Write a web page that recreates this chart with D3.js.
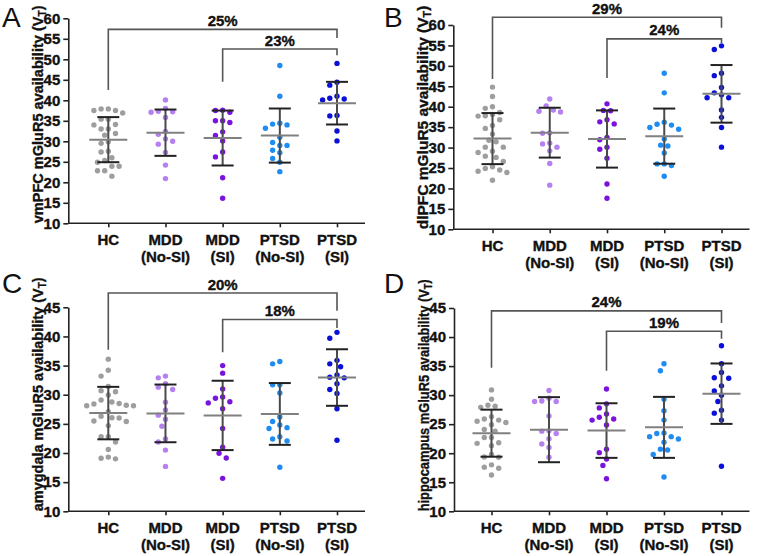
<!DOCTYPE html>
<html><head><meta charset="utf-8">
<script src="https://cdn.jsdelivr.net/npm/d3@7"></script>
<style>
body{margin:0;background:#fff}
svg{display:block}
text{font-family:"Liberation Sans",Arial,Helvetica,sans-serif}
.bt{stroke:#111;stroke-width:0.35px}
</style>
</head><body>
<svg id="chart" width="762" height="556"></svg>
<script>
// ---------- data ----------
const groupLine1 = ["HC","MDD","MDD","PTSD","PTSD"];
const groupLine2 = ["","(No-SI)","(SI)","(No-SI)","(SI)"];
const groupColors = ["#9e9e9e","#b580ef","#7a14dc","#1f8cf0","#0a10d8"];

const ticksAB = [10,15,20,25,30,35,40,45,50,55,60];
const ticksCD = [10,15,20,25,30,35,40,45];

const regionNames = ["vmPFC","dlPFC","amygdala","hippocampus"];
const panelLetters = ["A","B","C","D"];

// Panel A (vmPFC)
const A_HC     = [37.9,37.5,36.9,37.5,37.9,35.4,35.4,34.1,34.0,33.0,33.0,31.5,31.9,29.9,29.5,27.6,27.4,26.0,25.3,24.9,23.9,23.9,22.8,22.8,21.5];
const A_MDDno  = [40.1,38.0,37.3,37.1,37.2,35.8,32.4,31.7,30.6,30.0,29.3,27.3,24.2,20.9];
const A_MDDsi  = [37.6,37.1,37.5,35.0,34.6,35.0,32.3,31.4,30.1,27.4,26.2,21.1,16.1];
const A_PTSDno = [48.5,41.0,34.4,34.0,34.2,33.2,31.0,29.0,29.0,29.7,27.2,27.8,25.8,24.9,22.6];
const A_PTSDsi = [49.0,44.4,43.7,41.0,40.3,40.1,40.5,36.2,36.3,32.5,30.1];
const A_mean = [30.4,32.1,30.8,31.4,39.3];
const A_sd   = [5.5,5.65,6.7,6.6,5.2];
const A_pct  = ["25%","23%"];

// Panel B (dlPFC)
const B_HC     = [44.8,42.5,40.0,39.6,38.6,38.1,37.8,37.7,36.8,35.4,34.7,33.3,31.8,31.4,30.1,30.1,29.1,28.8,27.9,27.6,26.6,25.3,24.9,24.5,24.2,23.9,22.0];
const B_MDDno  = [41.9,40.2,39.2,38.9,38.7,33.6,33.5,31.1,30.9,30.1,29.2,26.1,20.8];
const B_MDDsi  = [40.7,39.1,39.0,36.8,36.3,35.8,32.5,31.9,30.1,29.6,27.4,21.1,17.6];
const B_PTSDno = [48.2,43.4,36.2,35.7,35.5,34.9,34.5,32.1,30.6,30.4,28.7,26.0,26.0,25.6,23.0];
const B_PTSDsi = [54.9,54.0,48.2,47.6,44.7,43.4,42.9,42.2,42.2,39.2,37.4,34.9,30.1];
const B_mean = [32.2,33.65,32.1,32.8,43.15];
const B_sd   = [6.25,6.1,7.0,6.75,7.05];
const B_pct  = ["29%","24%"];

// Panel C (amygdala)
const C_HC     = [36.1,34.2,33.2,31.4,30.7,30.5,29.95,29.1,28.75,28.5,28.4,28.2,28.1,28.1,27.1,26.3,26.05,26.0,25.5,25.4,24.7,22.8,22.8,21.9,20.6,19.3,19.1,19.0];
const C_MDDno  = [33.2,32.9,31.9,31.3,30.9,28.7,27.4,26.5,25.8,24.6,22.4,21.9,20.5,17.7];
const C_MDDsi  = [35.0,33.7,31.0,29.6,29.4,28.8,28.6,27.6,24.2,21.0,19.95,19.15,15.65];
const C_PTSDno = [35.7,35.3,31.7,31.7,30.3,26.2,25.4,24.8,24.35,24.2,22.8,22.4,22.05,17.55];
const C_PTSDsi = [40.7,39.7,35.9,35.3,34.8,33.4,33.0,32.9,31.9,30.9,30.2,27.6,22.2];
const C_mean = [26.85,26.8,26.45,26.7,32.95];
const C_sd   = [4.5,4.95,5.95,5.3,4.85];
const C_pct  = ["20%","18%"];

// Panel D (hippocampus)
const D_HC     = [30.9,29.3,28.25,28.1,27.9,26.3,25.9,25.7,25.5,25.3,24.9,24.1,23.8,22.7,22.7,21.8,21.7,21.3,19.8,19.35,19.3,18.0,17.6,17.4,16.25];
const D_MDDno  = [30.8,29.45,29.0,28.9,28.9,26.4,23.85,23.8,23.4,22.5,21.6,21.0,19.3];
const D_MDDsi  = [31.05,28.5,27.8,26.75,26.2,25.9,25.7,24.85,20.7,20.1,19.0,17.9,15.6];
const D_PTSDno = [35.4,34.2,29.3,27.3,25.7,23.5,23.4,22.85,22.85,22.45,21.9,20.7,20.55,19.8,15.9];
const D_PTSDsi = [38.5,35.4,33.9,33.0,32.9,31.6,30.7,30.0,28.9,27.4,26.9,25.7,17.75];
const D_mean = [23.45,24.05,23.9,24.45,30.25];
const D_sd   = [4.05,5.6,4.7,5.25,5.2];
const D_pct  = ["24%","19%"];

// bracket geometry in data units: [fromGroup, toGroup, barY, leftEnd, rightEnd]
const A_brackets = [[0,4,57.3,42.5,55.2],[2,4,52.5,44.5,51.0]];
const B_brackets = [[0,4,61.9,46.8,59.3],[2,4,56.6,47.0,55.6]];
const C_brackets = [[0,4,47.45,37.7,44.4],[2,4,42.9,37.3,41.45]];
const D_brackets = [[0,4,44.5,34.7,42.4],[2,4,41.0,34.2,39.7]];

// ---------- layout ----------
const panels = [
  {letter:panelLetters[0], region:regionNames[0], groups:[A_HC,A_MDDno,A_MDDsi,A_PTSDno,A_PTSDsi], mean:A_mean, sd:A_sd, pct:A_pct, brackets:A_brackets, ticks:ticksAB,
   x0:68.3, xFirst:108.3, xLast:337, yTop:18.3, yBot:223.3, lx:2, ly:27, titleLen:218},
  {letter:panelLetters[1], region:regionNames[1], groups:[B_HC,B_MDDno,B_MDDsi,B_PTSDno,B_PTSDsi], mean:B_mean, sd:B_sd, pct:B_pct, brackets:B_brackets, ticks:ticksAB,
   x0:453.3, xFirst:492.5, xLast:721.5, yTop:25, yBot:229.3, lx:384, ly:27, titleLen:226},
  {letter:panelLetters[2], region:regionNames[2], groups:[C_HC,C_MDDno,C_MDDsi,C_PTSDno,C_PTSDsi], mean:C_mean, sd:C_sd, pct:C_pct, brackets:C_brackets, ticks:ticksCD,
   x0:68.3, xFirst:108.3, xLast:337, yTop:307.3, yBot:511.3, lx:2, ly:293, titleLen:234},
  {letter:panelLetters[3], region:regionNames[3], groups:[D_HC,D_MDDno,D_MDDsi,D_PTSDno,D_PTSDsi], mean:D_mean, sd:D_sd, pct:D_pct, brackets:D_brackets, ticks:ticksCD,
   x0:454, xFirst:491.5, xLast:721.5, yTop:308, yBot:511.3, lx:384, ly:293, titleLen:232}
];

const svg = d3.select("#chart");
const FS = 15;
const TFS = 15.5;
const R = 2.7;

function swarm(vals, y, r) {
  const pts = vals.map(v => ({v, py:y(v)})).sort((a,b)=>a.py-b.py);
  const placed = [];
  const step = 3.6, minD = 2*r + 1.6;
  for (const p of pts) {
    for (let k = 0; k < 60; k++) {
      const off = (k===0?0:(k%2===1?-1:1)*Math.ceil(k/2)*step);
      const hit = placed.some(q => (off-q.dx)**2 + (p.py-q.py)**2 < minD*minD);
      if (!hit) { p.dx = off; break; }
    }
    placed.push(p);
  }
  return placed;
}

panels.forEach(P => {
  const g = svg.append("g");
  const y = d3.scaleLinear().domain([10, d3.max(P.ticks)]).range([P.yBot, P.yTop]);
  const x = d3.scalePoint().domain(d3.range(5)).range([P.xFirst, P.xLast]);
  const xEnd = P.xLast + 28;

  // points
  P.groups.forEach((vals, gi) => {
    const pts = swarm(vals, y, R);
    g.append("g").selectAll("circle").data(pts).join("circle")
      .attr("cx", d => x(gi) + d.dx).attr("cy", d => d.py).attr("r", R)
      .attr("fill", groupColors[gi]);
  });

  // error bars
  P.mean.forEach((m, gi) => {
    const cx = x(gi), s = P.sd[gi];
    g.append("line").attr("x1",cx).attr("x2",cx).attr("y1",y(m-s)).attr("y2",y(m+s))
      .attr("stroke","#4a4a4a").attr("stroke-width",2);
    [m-s, m+s].forEach(v => g.append("line").attr("x1",cx-11).attr("x2",cx+11).attr("y1",y(v)).attr("y2",y(v))
      .attr("stroke","#222").attr("stroke-width",2));
    g.append("line").attr("x1",cx-19).attr("x2",cx+19).attr("y1",y(m)).attr("y2",y(m))
      .attr("stroke","#808080").attr("stroke-width",2);
  });

  // y axis
  const ya = g.append("g").attr("transform",`translate(${P.x0},0)`)
    .call(d3.axisLeft(y).tickValues(P.ticks).tickSize(5).tickSizeOuter(0).tickPadding(3));
  ya.select(".domain").attr("stroke","#222").attr("stroke-width",1.6);
  ya.selectAll(".tick line").attr("stroke","#222").attr("stroke-width",1.6);
  ya.selectAll(".tick text").attr("class","bt").attr("font-size",FS).attr("font-weight","bold").attr("fill","#111")
    .attr("font-family",'"Liberation Sans",Arial,sans-serif');

  // x axis
  g.append("line").attr("x1",P.x0).attr("x2",xEnd).attr("y1",P.yBot).attr("y2",P.yBot)
    .attr("stroke","#222").attr("stroke-width",1.6);
  const xa = g.append("g").attr("transform",`translate(0,${P.yBot})`)
    .call(d3.axisBottom(x).tickSize(4).tickSizeOuter(0).tickFormat(""));
  xa.select(".domain").remove();
  xa.selectAll(".tick line").attr("stroke","#222").attr("stroke-width",1.6);
  d3.range(5).forEach(i => {
    const t = g.append("text").attr("class","bt").attr("x",x(i)).attr("y",P.yBot+22).attr("text-anchor","middle")
      .attr("font-size",FS).attr("font-weight","bold").attr("fill","#111");
    t.append("tspan").attr("x",x(i)).text(groupLine1[i]);
    if (groupLine2[i]) t.append("tspan").attr("x",x(i)).attr("dy",17).text(groupLine2[i]);
  });

  // y title (compressed along its length to fit the reference span)
  const tx = P.x0 - 25;
  const title = g.append("text").attr("class","bt")
    .attr("font-size",TFS).attr("font-weight","bold").attr("fill","#111").attr("text-anchor","start");
  title.append("tspan").text(`${P.region} mGluR5 availability (V`);
  title.append("tspan").attr("font-size",TFS*0.7).attr("dy",3).text("T");
  title.append("tspan").attr("dy",-3).text(")");
  const len = title.node().getComputedTextLength();
  const k = Math.min(1, P.titleLen / len);
  title.attr("transform",`translate(${tx},${P.yBot}) rotate(-90) scale(${k},1)`);

  // brackets
  P.brackets.forEach((b, bi) => {
    const [from, to, by, le, re] = b;
    const x1 = x(from), x2 = x(to);
    g.append("path").attr("d", `M${x1},${y(le)}V${y(by)}H${x2}V${y(re)}`)
      .attr("fill","none").attr("stroke","#555").attr("stroke-width",1.6);
    g.append("text").attr("class","bt").attr("x",(x1+x2)/2).attr("y",y(by)-3.5).attr("text-anchor","middle")
      .attr("font-size",FS).attr("font-weight","bold").attr("fill","#111").text(P.pct[bi]);
  });

  // panel letter
  g.append("text").attr("x",P.lx).attr("y",P.ly).attr("font-size",28).attr("fill","#111").text(P.letter);
});
</script>
</body></html>
